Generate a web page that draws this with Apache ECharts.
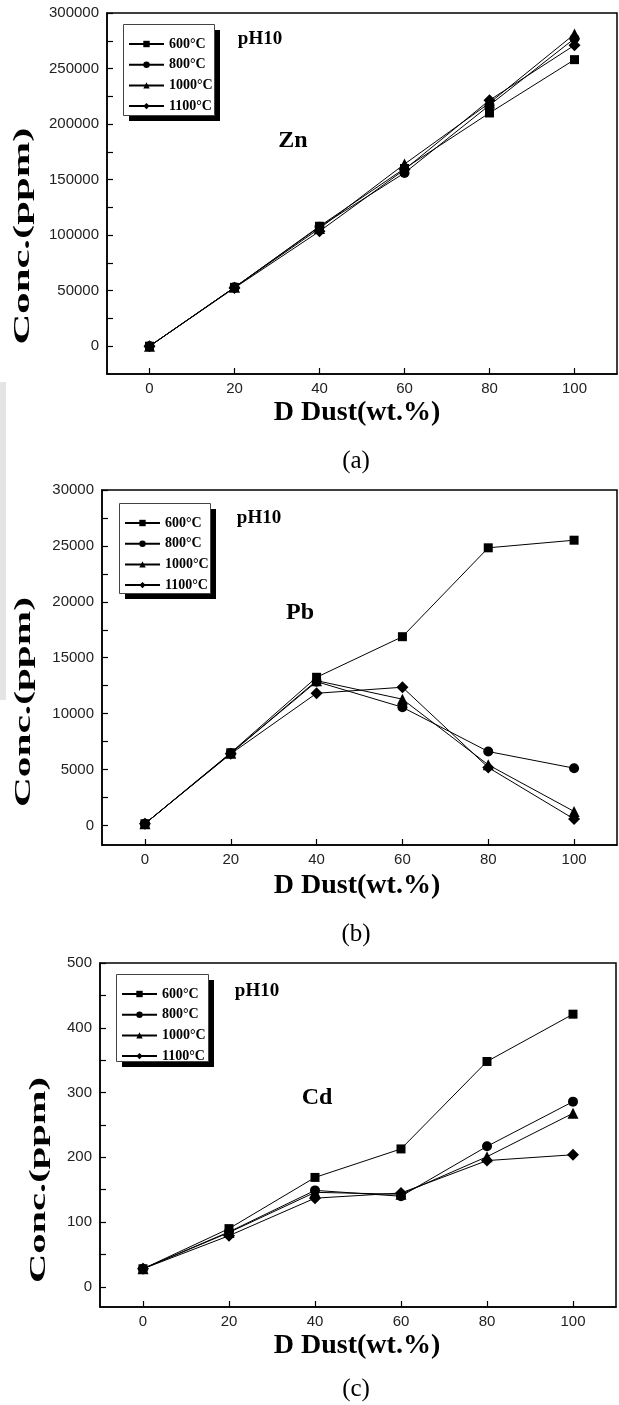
<!DOCTYPE html>
<html>
<head>
<meta charset="utf-8">
<script src="https://cdn.jsdelivr.net/npm/echarts@6/dist/echarts.min.js"></script>
<style>
html,body{margin:0;padding:0;background:#fff;}
#chart{width:619px;height:1405px;}
</style>
</head>
<body>
<div id="chart"></div>
<script>
// ---- data ----
const dust = [0, 20, 40, 60, 80, 100];
const temps = ['600°C', '800°C', '1000°C', '1100°C'];
const xTickLabels = [0, 20, 40, 60, 80, 100];

const zn600  = [0, 53000, 108000, 160000, 210000, 258000];
const zn800  = [0, 53000, 107500, 156000, 217000, 277000];
const zn1000 = [0, 53000, 106000, 164000, 219000, 281000];
const zn1100 = [0, 52500, 103500, 159000, 221500, 271000];

const pb600  = [150, 6500, 13250, 16880, 24830, 25510];
const pb800  = [150, 6450, 12860, 10570, 6610, 5120];
const pb1000 = [150, 6450, 12950, 11290, 5420, 1250];
const pb1100 = [150, 6400, 11820, 12360, 5180, 570];

const cd600  = [28, 90, 169, 213, 348, 421];
const cd800  = [28, 85, 149, 140, 217, 286];
const cd1000 = [28, 84, 146, 143, 201, 268];
const cd1100 = [28, 79, 137, 145, 195, 204];

const znTickLabels = [0, 50000, 100000, 150000, 200000, 250000, 300000];
const pbTickLabels = [0, 5000, 10000, 15000, 20000, 25000, 30000];
const cdTickLabels = [0, 100, 200, 300, 400, 500];
const znTicks = [0, 25000, 50000, 75000, 100000, 125000, 150000, 175000, 200000, 225000, 250000, 275000, 300000];
const pbTicks = [0, 2500, 5000, 7500, 10000, 12500, 15000, 17500, 20000, 22500, 25000, 27500, 30000];
const cdTicks = [0, 50, 100, 150, 200, 250, 300, 350, 400, 450, 500];

const panels = [
  {el: 'Zn', series: [zn600, zn800, zn1000, zn1100], labels: znTickLabels, ticks: znTicks, caption: '(a)'},
  {el: 'Pb', series: [pb600, pb800, pb1000, pb1100], labels: pbTickLabels, ticks: pbTicks, caption: '(b)'},
  {el: 'Cd', series: [cd600, cd800, cd1000, cd1100], labels: cdTickLabels, ticks: cdTicks, caption: '(c)'}
];

// ---- layout (styles kept separate from data) ----
const layout = [
  {grid: {left: 107, top: 13, width: 510, height: 361}, ymin: -25000, ymax: 300000,
   legend: {left: 123, top: 24, w: 91, h: 91}, ph: [260, 39], el: [293, 141],
   ytitle: [23, 236, 217], xtitle: [357, 413], caption: [356, 461]},
  {grid: {left: 102, top: 490, width: 515, height: 355}, ymin: -1750, ymax: 30000,
   legend: {left: 119, top: 503, w: 91, h: 90}, ph: [259, 518], el: [300, 613],
   ytitle: [24, 702, 210], xtitle: [357, 886], caption: [356, 934]},
  {grid: {left: 100, top: 963, width: 516, height: 344}, ymin: -31, ymax: 500,
   legend: {left: 116, top: 974, w: 92, h: 87}, ph: [257, 991], el: [317, 1098],
   ytitle: [39, 1180, 206], xtitle: [357, 1346], caption: [356, 1389]}
];
const symbols = ['rect', 'circle', 'triangle', 'diamond'];
const symSizes = [9, 10, 11, 12];

const SERIF = '"Liberation Serif", "Times New Roman", serif';
const SANS = '"Liberation Sans", Arial, sans-serif';

const grids = [], xAxes = [], yAxes = [], series = [], legends = [], graphics = [];

panels.forEach((p, i) => {
  const L = layout[i];
  grids.push(Object.assign({show: true, borderColor: '#000', borderWidth: 1.5, backgroundColor: 'transparent'}, L.grid));
  xAxes.push({
    type: 'value', gridIndex: i, min: -10, max: 110,
    axisLine: {show: true, onZero: false, lineStyle: {color: '#000', width: 1.5}},
    axisTick: {show: true, inside: true, length: 6, customValues: xTickLabels, lineStyle: {color: '#000', width: 1.2}},
    axisLabel: {show: true, customValues: xTickLabels, margin: 7, fontFamily: SANS, fontSize: 15, color: '#222',
      formatter: v => String(v)},
    splitLine: {show: false}
  });
  yAxes.push({
    type: 'value', gridIndex: i, min: L.ymin, max: L.ymax,
    axisLine: {show: true, onZero: false, lineStyle: {color: '#000', width: 1.5}},
    axisTick: {show: true, inside: true, length: 6, customValues: p.ticks, lineStyle: {color: '#000', width: 1.2}},
    axisLabel: {show: true, customValues: p.labels, margin: 8, fontFamily: SANS, fontSize: 15, color: '#222',
      formatter: v => String(v)},
    splitLine: {show: false}
  });
  p.series.forEach((vals, k) => {
    series.push({
      type: 'line', name: temps[k], xAxisIndex: i, yAxisIndex: i,
      data: dust.map((d, j) => [d, vals[j]]),
      symbol: symbols[k], symbolSize: symSizes[k],
      itemStyle: {color: '#000'},
      lineStyle: {color: '#000', width: 1},
      z: 2 + k
    });
  });
  legends.push({
    data: temps, orient: 'vertical', left: L.legend.left, top: L.legend.top,
    selectedMode: false, z: 10,
    padding: [13, 4, 3, 5], itemGap: 6.7, itemWidth: 35, itemHeight: 8,
    textStyle: {fontFamily: SERIF, fontWeight: 'bold', fontSize: 14, color: '#000'}
  });
  // legend frame with solid drop shadow
  graphics.push({type: 'rect', silent: true, z: 5,
    shape: {x: L.legend.left + 6, y: L.legend.top + 6, width: L.legend.w, height: L.legend.h},
    style: {fill: '#000'}});
  graphics.push({type: 'rect', silent: true, z: 6,
    shape: {x: L.legend.left + 0.5, y: L.legend.top + 0.5, width: L.legend.w, height: L.legend.h},
    style: {fill: '#fff', stroke: '#444', lineWidth: 1}});
  graphics.push({type: 'text', silent: true, x: L.ph[0], y: L.ph[1],
    style: {text: 'pH10', fontFamily: SERIF, fontWeight: 'bold', fontSize: 19, fill: '#000', align: 'center', verticalAlign: 'middle'}});
  graphics.push({type: 'text', silent: true, x: L.el[0], y: L.el[1],
    style: {text: p.el, fontFamily: SERIF, fontWeight: 'bold', fontSize: 24, fill: '#000', align: 'center', verticalAlign: 'middle'}});
  graphics.push({type: 'text', silent: true, x: L.ytitle[0], y: L.ytitle[1], rotation: Math.PI / 2,
    scaleX: L.ytitle[2] / (5.083 * 23), scaleY: 1,
    style: {text: 'Conc.(ppm)', fontFamily: SERIF, fontWeight: 'bold', fontSize: 23, fill: '#000', align: 'center', verticalAlign: 'middle'}});
  graphics.push({type: 'text', silent: true, x: L.xtitle[0], y: L.xtitle[1],
    style: {text: 'D Dust(wt.%)', fontFamily: SERIF, fontWeight: 'bold', fontSize: 28, fill: '#000', align: 'center', verticalAlign: 'middle'}});
  graphics.push({type: 'text', silent: true, x: L.caption[0], y: L.caption[1],
    style: {text: p.caption, fontFamily: SERIF, fontSize: 25, fill: '#000', align: 'center', verticalAlign: 'middle'}});
});

graphics.push({type: 'rect', silent: true, shape: {x: 0, y: 382, width: 6, height: 318}, style: {fill: '#e4e4e4'}, z: -1});

const chart = echarts.init(document.getElementById('chart'), null, {renderer: 'canvas'});
chart.setOption({
  animation: false,
  backgroundColor: '#fff',
  grid: grids, xAxis: xAxes, yAxis: yAxes, series: series, legend: legends,
  graphic: {elements: graphics}
});
</script>
</body>
</html>
